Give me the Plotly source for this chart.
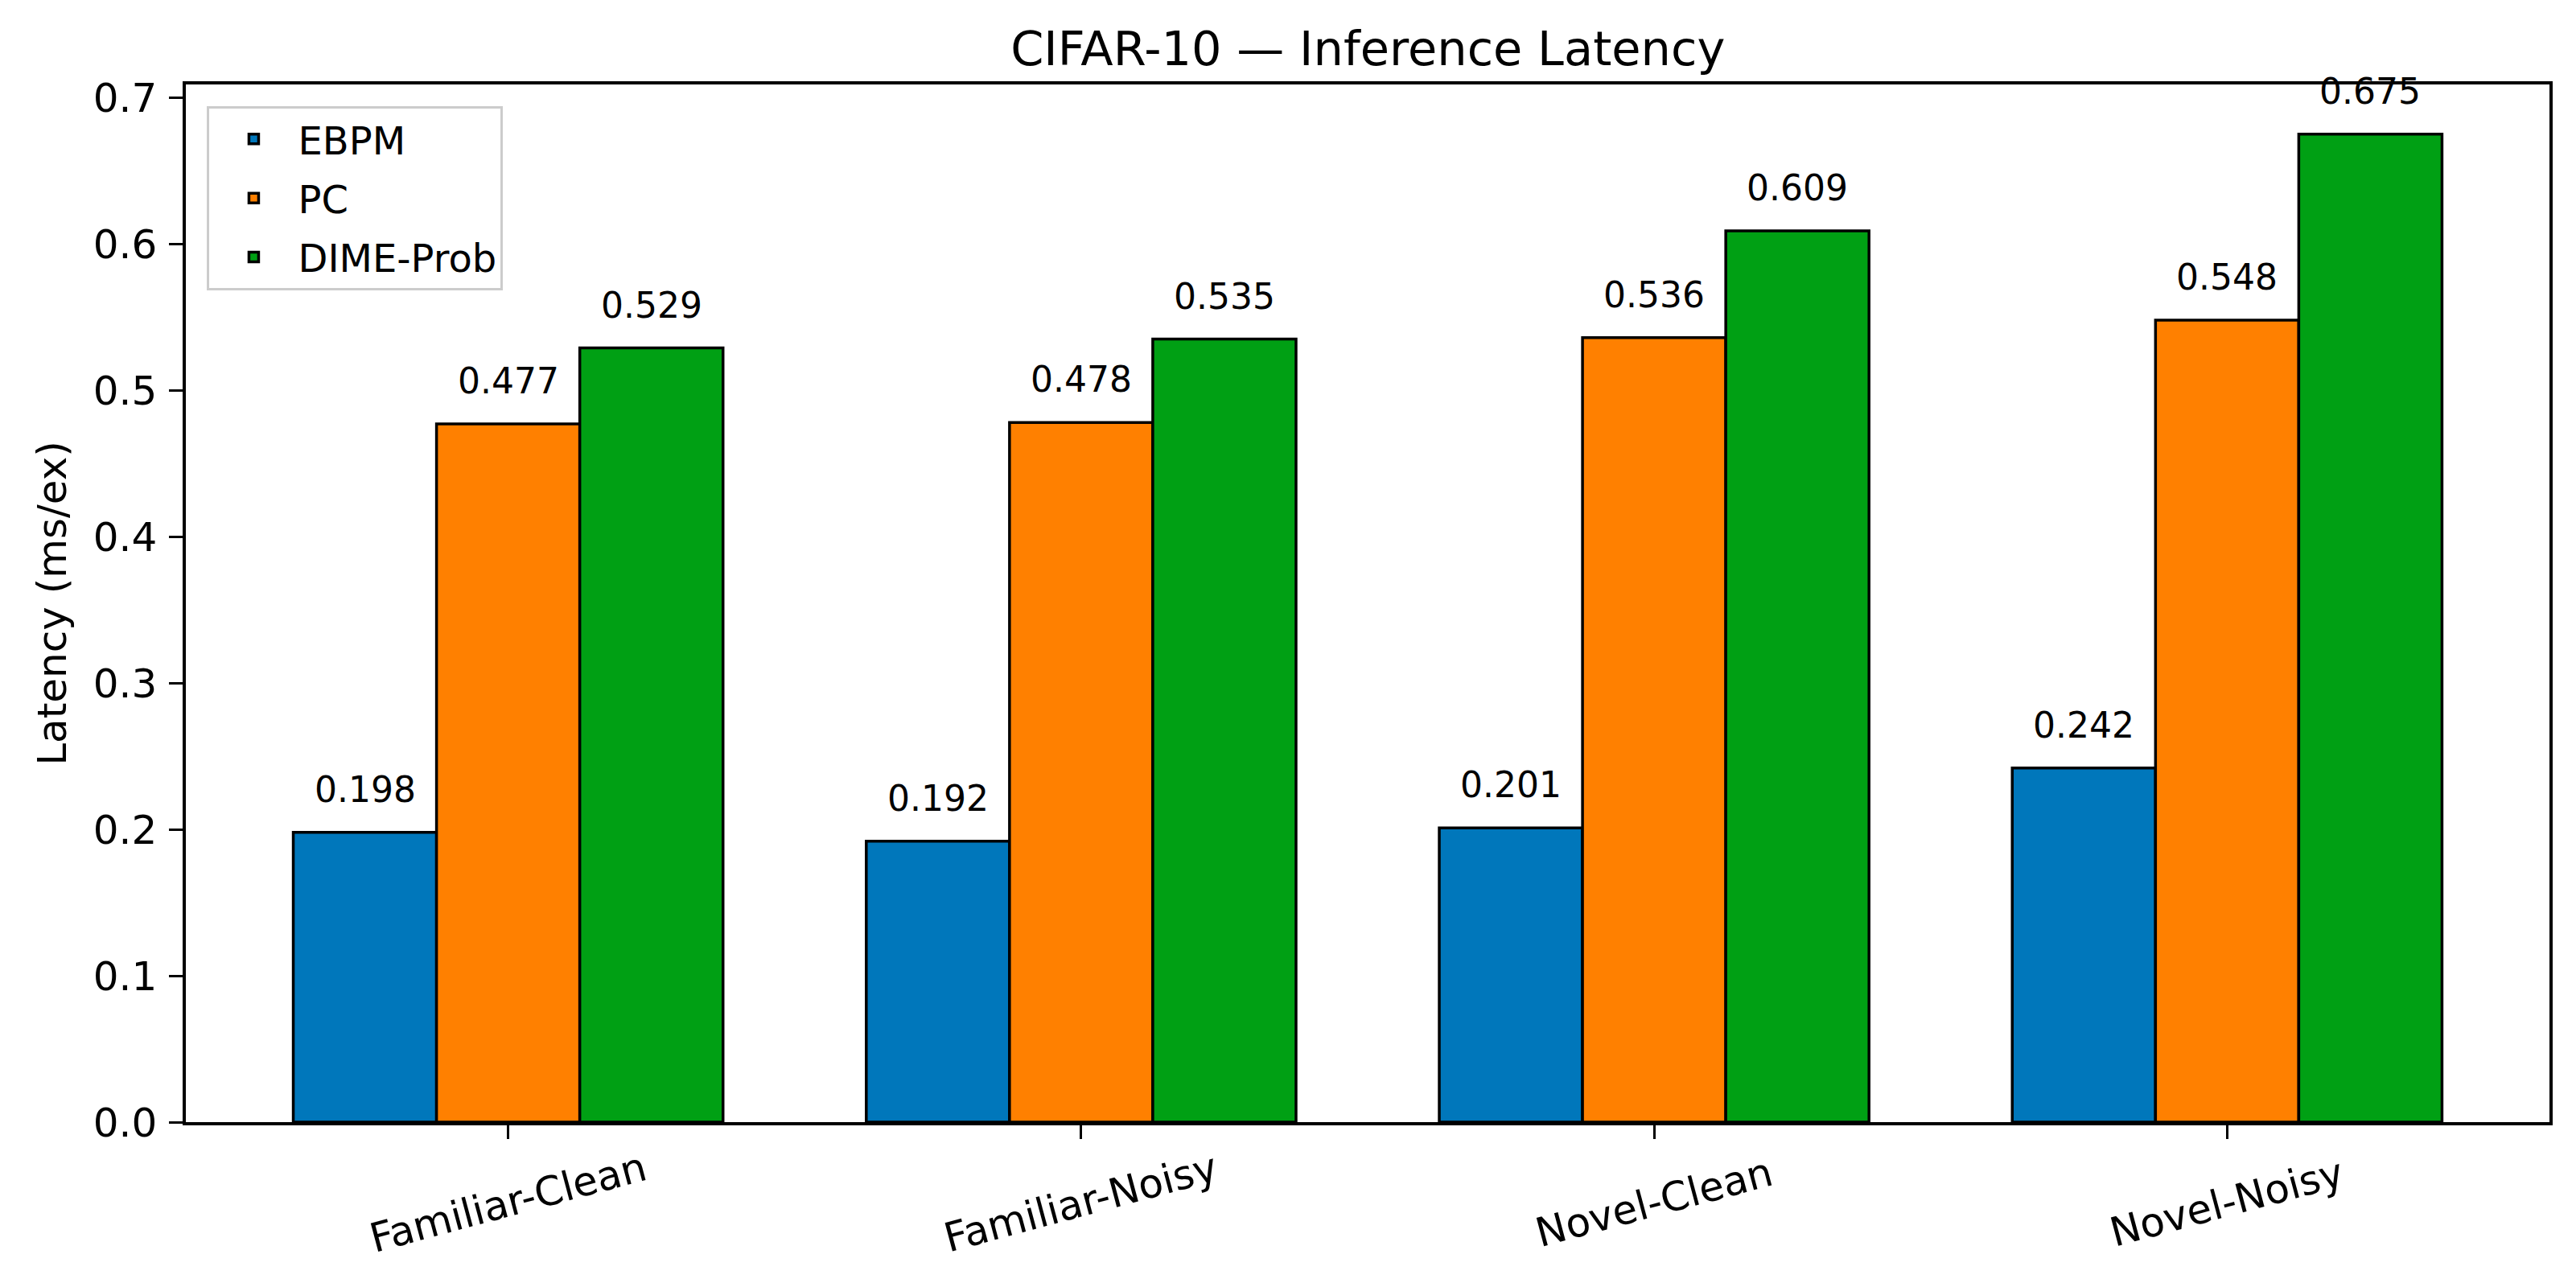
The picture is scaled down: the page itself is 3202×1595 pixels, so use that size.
import plotly.graph_objects as go

categories = ["Familiar-Clean", "Familiar-Noisy", "Novel-Clean", "Novel-Noisy"]
series_names = ["EBPM", "PC", "DIME-Prob"]
ebpm = [0.198, 0.192, 0.201, 0.242]
pc = [0.477, 0.478, 0.536, 0.548]
dime = [0.529, 0.535, 0.609, 0.675]
colors = ["#0077BB", "#FF8000", "#00A014"]

W, H = 3202, 1595
FONT = "DejaVu Sans"

fig = go.Figure()
all_vals = [ebpm, pc, dime]
bar_w = 0.25
for k, (name, vals, col) in enumerate(zip(series_names, all_vals, colors)):
    fig.add_trace(go.Bar(
        name=name, x=categories, y=vals,
        marker=dict(color=col, line=dict(color="black", width=3.5)),
        offsetgroup=str(k), legendgroup=name,
    ))
    off = (k - 1) * bar_w
    for i, v in enumerate(vals):
        fig.add_annotation(
            x=i + off, y=v, xref="x", yref="y",
            text=f"{v:.3f}", showarrow=False,
            yanchor="bottom", yshift=26,
            font=dict(family=FONT, size=44, color="black"),
        )

# category labels, centred under each tick and rotated like the reference
for i, c in enumerate(categories):
    fig.add_annotation(
        x=i, y=0, xref="x", yref="paper",
        text=c, showarrow=False, textangle=-15,
        xanchor="center", yanchor="middle", yshift=-100,
        font=dict(family=FONT, size=50, color="black"),
    )

fig.update_layout(
    width=W, height=H,
    margin=dict(l=223, r=41, t=97, b=208),
    paper_bgcolor="white", plot_bgcolor="white",
    barmode="group", bargap=0.25, bargroupgap=0,
    font=dict(family=FONT, size=50, color="black"),
    title=dict(text="CIFAR-10 — Inference Latency", x=0.5285, xanchor="center", xref="container",
               y=1 - 52 / H, yanchor="middle", yref="container",
               font=dict(family=FONT, size=59, color="black")),
    legend=dict(x=0.009, y=0.979, xanchor="left", yanchor="top",
                bgcolor="rgba(255,255,255,0.8)", bordercolor="#cccccc", borderwidth=3,
                font=dict(family=FONT, size=48, color="black"),
                itemwidth=100, tracegroupgap=8),
    showlegend=True,
)
fig.update_xaxes(
    type="category", range=[-0.5625, 3.5625],
    showline=True, linecolor="black", linewidth=3.5, mirror=True,
    ticks="outside", ticklen=17, tickwidth=3, tickcolor="black",
    showticklabels=False,
    showgrid=False, zeroline=False, automargin=False,
)
fig.update_yaxes(
    range=[0, 0.709], dtick=0.1, tick0=0, tickformat=".1f",
    showline=True, linecolor="black", linewidth=3.5, mirror=True,
    ticks="outside", ticklen=17, tickwidth=3, tickcolor="black",
    tickfont=dict(family=FONT, size=50, color="black"),
    ticklabelstandoff=5,
    title=dict(text="Latency (ms/ex)", font=dict(family=FONT, size=50, color="black"), standoff=18),
    showgrid=False, zeroline=False, automargin=False,
)

fig.write_html("out.html")
